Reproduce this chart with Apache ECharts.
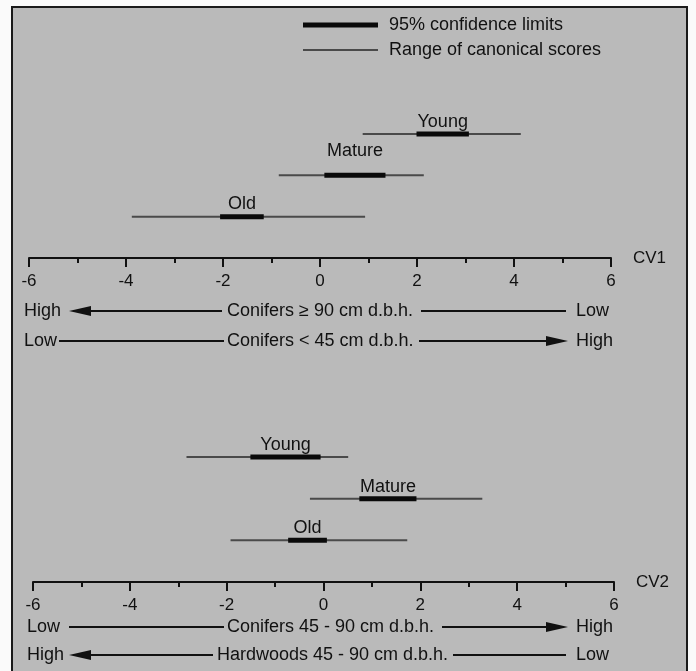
<!DOCTYPE html>
<html>
<head>
<meta charset="utf-8">
<script src="https://cdn.jsdelivr.net/npm/echarts@6/dist/echarts.min.js"></script>
<style>
  html, body { margin: 0; padding: 0; background: #fafafa; }
  #chart { width: 696px; height: 671px; }
</style>
</head>
<body>
<div id="chart"></div>
<script>
// stand ages, drawn bottom to top
var ages = ['Old', 'Mature', 'Young'];

// CV1: range of canonical scores and 95% confidence limits
var cv1RangeLo = [-3.88, -0.85, 0.88];
var cv1RangeHi = [0.93, 2.14, 4.14];
var cv1CiLo = [-2.06, 0.09, 1.99];
var cv1CiHi = [-1.16, 1.35, 3.07];

// CV2
var cv2RangeLo = [-1.92, -0.28, -2.83];
var cv2RangeHi = [1.73, 3.28, 0.51];
var cv2CiLo = [-0.73, 0.74, -1.51];
var cv2CiHi = [0.07, 1.92, -0.06];

var axisMin = -6, axisMax = 6, axisStep = 2;

var FONT = '"Liberation Sans", Arial, sans-serif';
var INK = '#111';

function rows(lo, hi, ciLo, ciHi) {
  return ages.map(function (a, i) {
    return [lo[i], hi[i], ciLo[i], ciHi[i], i + 1];
  });
}

// lift = how far the age label sits above its bar
function makeSeries(idx, data, lift) {
  return {
    type: 'custom',
    xAxisIndex: idx,
    yAxisIndex: idx,
    silent: true,
    data: data,
    renderItem: function (params, api) {
      var y = api.value(4);
      var a = api.coord([api.value(0), y]);
      var b = api.coord([api.value(1), y]);
      var c = api.coord([api.value(2), y]);
      var d = api.coord([api.value(3), y]);
      return {
        type: 'group',
        children: [
          { type: 'line', shape: { x1: a[0], y1: a[1], x2: b[0], y2: b[1] },
            style: { stroke: '#4a4a4a', lineWidth: 2 } },
          { type: 'line', shape: { x1: c[0], y1: c[1], x2: d[0], y2: d[1] },
            style: { stroke: '#0a0a0a', lineWidth: 5 } },
          { type: 'text', x: (c[0] + d[0]) / 2, y: c[1] - lift[params.dataIndex],
            style: { text: ages[params.dataIndex], fill: INK, font: '18px ' + FONT,
              align: 'center', verticalAlign: 'middle' } }
        ]
      };
    }
  };
}

function xAxis(idx, name) {
  return {
    type: 'value', gridIndex: idx, min: axisMin, max: axisMax, interval: axisStep,
    name: name, nameLocation: 'end', nameGap: 22,
    nameTextStyle: { color: INK, fontSize: 17, fontFamily: FONT, verticalAlign: 'middle' },
    axisLine: { show: true, onZero: false, lineStyle: { color: INK, width: 2 } },
    axisTick: { show: true, length: 9, lineStyle: { color: INK, width: 2 } },
    minorTick: { show: true, splitNumber: 2, length: 5, lineStyle: { color: INK, width: 2 } },
    axisLabel: { color: INK, fontSize: 17, fontFamily: FONT, margin: 15 },
    splitLine: { show: false },
    minorSplitLine: { show: false }
  };
}

function yAxis(idx) {
  return { type: 'value', gridIndex: idx, min: 0, max: 3, show: false };
}

// annotation rows under each axis
function txt(x, y, s) {
  return { type: 'text', x: x, y: y, z: 10,
    style: { text: s, fill: INK, font: '18px ' + FONT, align: 'left', verticalAlign: 'middle' } };
}
function seg(x1, x2, y) {
  return { type: 'line', z: 10, shape: { x1: x1, y1: y, x2: x2, y2: y },
    style: { stroke: INK, lineWidth: 2 } };
}
function head(tip, base, y) {
  return { type: 'polygon', z: 10,
    shape: { points: [[tip, y], [base, y - 5], [base, y + 5]] },
    style: { fill: INK } };
}

var graphics = [
  { type: 'rect', z: -100, shape: { x: 12, y: 7, width: 675, height: 670 },
    style: { fill: '#bababa', stroke: '#1a1a1a', lineWidth: 2 } },
  // key
  { type: 'line', z: 10, shape: { x1: 303, y1: 25, x2: 378, y2: 25 }, style: { stroke: '#0a0a0a', lineWidth: 5 } },
  { type: 'line', z: 10, shape: { x1: 303, y1: 50, x2: 378, y2: 50 }, style: { stroke: '#4a4a4a', lineWidth: 2 } },
  txt(389, 25, '95% confidence limits'),
  txt(389, 50, 'Range of canonical scores'),

  txt(24, 311, 'High'), head(69, 91, 311), seg(91, 222, 311),
  txt(227, 311, 'Conifers ≥ 90 cm d.b.h.'), seg(421, 566, 311), txt(576, 311, 'Low'),

  txt(24, 341, 'Low'), seg(59, 224, 341),
  txt(227, 341, 'Conifers < 45 cm d.b.h.'), seg(419, 548, 341), head(568, 546, 341), txt(576, 341, 'High'),

  txt(27, 627, 'Low'), seg(69, 224, 627),
  txt(227, 627, 'Conifers 45 - 90 cm d.b.h.'), seg(442, 548, 627), head(568, 546, 627), txt(576, 627, 'High'),

  txt(27, 655, 'High'), head(69, 91, 655), seg(91, 213, 655),
  txt(217, 655, 'Hardwoods 45 - 90 cm d.b.h.'), seg(453, 566, 655), txt(576, 655, 'Low')
];

var chart = echarts.init(document.getElementById('chart'));
chart.setOption({
  backgroundColor: '#fafafa',
  animation: false,
  grid: [
    { left: 29, right: 85, top: 134, height: 124 },
    { left: 33, right: 82, top: 457, height: 125 }
  ],
  xAxis: [xAxis(0, 'CV1'), xAxis(1, 'CV2')],
  yAxis: [yAxis(0), yAxis(1)],
  graphic: { elements: graphics },
  series: [
    makeSeries(0, rows(cv1RangeLo, cv1RangeHi, cv1CiLo, cv1CiHi), [13, 24, 12]),
    makeSeries(1, rows(cv2RangeLo, cv2RangeHi, cv2CiLo, cv2CiHi), [12, 12, 12])
  ]
});
</script>
</body>
</html>
